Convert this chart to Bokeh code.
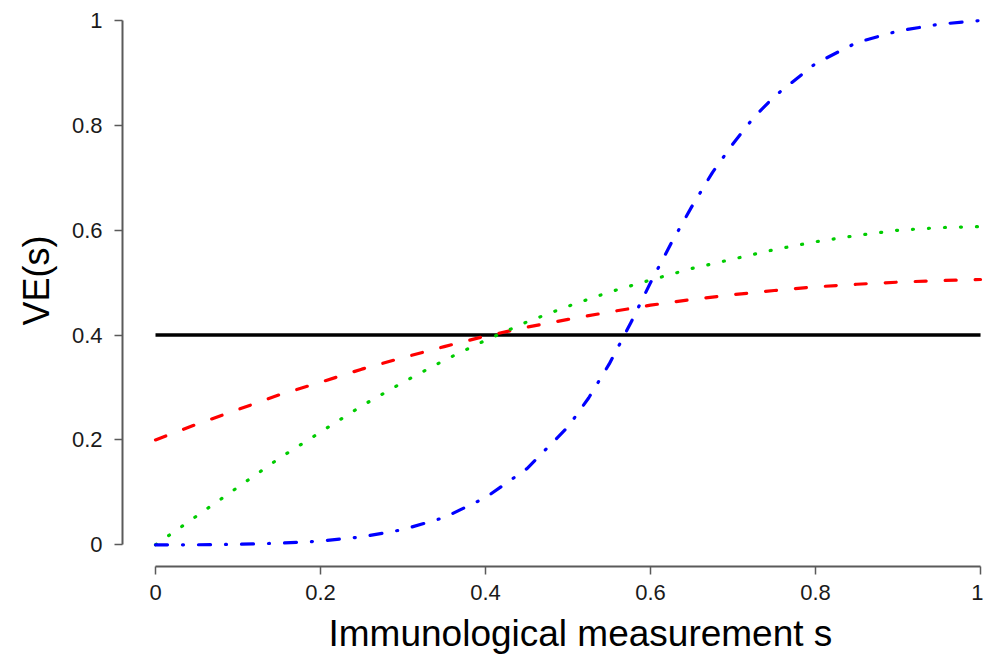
from bokeh.plotting import figure
from bokeh.models import FixedTicker, CustomJSTickFormatter, Range1d, Title
from bokeh.embed import file_html
from bokeh.resources import INLINE

# ---- data ----
s_grid = [0.0, 0.05, 0.1, 0.15, 0.2, 0.25, 0.3, 0.35, 0.4, 0.45, 0.5,
          0.55, 0.6, 0.65, 0.7, 0.75, 0.8, 0.85, 0.9, 0.95, 1.0]
ve_constant = [0.4] * len(s_grid)
ve_red = [0.2, 0.23, 0.258, 0.286, 0.31, 0.335, 0.357, 0.378, 0.398, 0.415, 0.43,
          0.444, 0.457, 0.468, 0.477, 0.485, 0.492, 0.497, 0.501, 0.504, 0.506]
ve_green = [0.0, 0.055, 0.11, 0.165, 0.215, 0.265, 0.31, 0.352, 0.39, 0.425, 0.455,
            0.482, 0.505, 0.527, 0.545, 0.563, 0.578, 0.59, 0.6, 0.605, 0.607]
s_blue = [0.0, 0.05, 0.1, 0.15, 0.2, 0.25, 0.3, 0.35, 0.4, 0.45, 0.5, 0.525, 0.55,
          0.575, 0.6, 0.625, 0.65, 0.675, 0.7, 0.725, 0.75, 0.8, 0.85, 0.9, 0.95, 1.0]
ve_blue = [0.0, 0.0, 0.001, 0.003, 0.007, 0.015, 0.029, 0.052, 0.09, 0.145, 0.225, 0.28,
           0.345, 0.42, 0.5, 0.575, 0.645, 0.71, 0.765, 0.815, 0.855, 0.918, 0.958,
           0.98, 0.993, 1.0]
x_ticks = [0, 0.2, 0.4, 0.6, 0.8, 1]
y_ticks = [0, 0.2, 0.4, 0.6, 0.8, 1]
x_title = "Immunological measurement s"
y_title = "VE(s)"

FONT = "Liberation Sans"

p = figure(width=983, height=662, output_backend="svg", toolbar_location=None,
           x_range=Range1d(-0.04, 1.0036), y_range=Range1d(-0.0414, 1.0153),
           min_border_left=122, min_border_right=0, min_border_top=12, min_border_bottom=96)
p.outline_line_color = None
p.grid.visible = False
p.background_fill_color = "white"
p.border_fill_color = "white"

p.line(s_grid, ve_constant, line_color="black", line_width=3.5)
p.line(s_grid, ve_red, line_color="#ff0000", line_width=3.2, line_dash="11 19",
       line_cap="round")
p.line(s_grid, ve_green, line_color="#00cc00", line_width=3.2, line_dash="1 15",
       line_cap="round")
p.line(s_blue, ve_blue, line_color="#0000ff", line_width=3.2,
       line_dash="12 15 1 15", line_cap="round")

fmt = CustomJSTickFormatter(code="return tick.toString();")
for ax, ticks in ((p.xaxis[0], x_ticks), (p.yaxis[0], y_ticks)):
    ax.ticker = FixedTicker(ticks=ticks)
    ax.formatter = fmt
    ax.bounds = (0, 1)
    ax.axis_line_color = "#5a5a5a"
    ax.axis_line_width = 2
    ax.major_tick_line_color = "#5a5a5a"
    ax.major_tick_line_width = 1.5
    ax.major_tick_in = 0
    ax.major_tick_out = 8
    ax.minor_tick_line_color = None
    ax.major_label_text_font = FONT
    ax.major_label_text_font_size = "22px"
    ax.major_label_text_color = "#1a1a1a"
p.xaxis[0].major_label_standoff = 10
p.yaxis[0].major_label_standoff = 12

# axis titles as side-panel titles, positioned like the reference
p.add_layout(Title(text=x_title, text_font=FONT, text_font_size="37px",
                   text_font_style="normal", text_color="black",
                   align="left", offset=206, standoff=16), "below")
p.add_layout(Title(text=y_title, text_font=FONT, text_font_size="36px",
                   text_font_style="normal", text_color="black",
                   align="left", offset=241, standoff=23), "left")

open("out.html", "w").write(file_html(p, INLINE))
